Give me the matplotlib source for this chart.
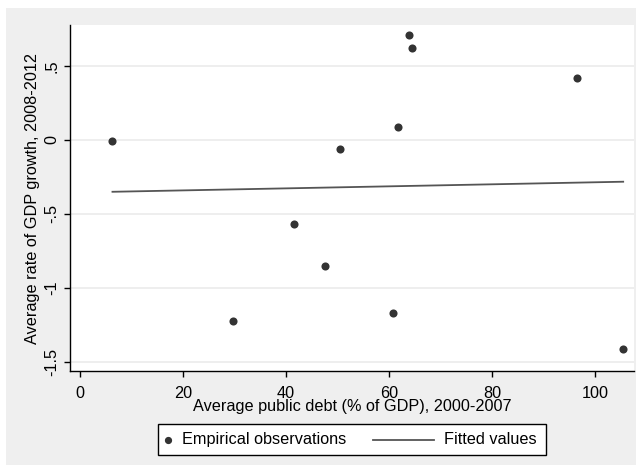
import matplotlib
matplotlib.use("Agg")
import matplotlib.pyplot as plt
from matplotlib.patches import Rectangle
from matplotlib.lines import Line2D

plt.rcParams['font.family'] = ['Liberation Sans', 'DejaVu Sans']

# Average public debt 2000-2007 (% of GDP) and average GDP growth 2008-2012
debt = [6.3, 29.8, 41.6, 47.6, 50.4, 60.8, 61.7, 63.9, 64.4, 96.6, 105.5]
growth = [-0.01, -1.22, -0.57, -0.85, -0.06, -1.17, 0.09, 0.71, 0.62, 0.42, -1.41]

# Fitted values at the ends of the sample
fit_x = [6.3, 105.5]
fit_y = [-0.350, -0.282]

x_ticks = [0, 20, 40, 60, 80, 100]
y_ticks = [-1.5, -1, -0.5, 0, 0.5]
y_labels = ['-1.5', '-1', '-.5', '0', '.5']
legend_labels = ['Empirical observations', 'Fitted values']

W, H = 636, 466
FS = 11.7
DOT = '#333333'
LINE = '#555555'

fig = plt.figure(figsize=(W / 100, H / 100), dpi=100)
fig.patch.set_facecolor('white')


def px(x, y):
    """pixel position (from top-left) -> figure fraction"""
    return x / W, 1 - y / H


# grey graph region behind everything
fig.patches.append(Rectangle((6 / W, 1 / H), 630 / W, 457 / H,
                             transform=fig.transFigure, facecolor='#efefef',
                             edgecolor='none', zorder=-5))

ax = fig.add_axes([70 / W, 1 - 371 / H, (634 - 70) / W, (371 - 25) / H])
ax.set_facecolor('white')

ax.scatter(debt, growth, s=34, color=DOT, zorder=3, linewidths=0)
ax.plot(fit_x, fit_y, color=LINE, lw=1.3, zorder=2)

ax.set_xlim(-1.95, 107.6)
ax.set_ylim(-1.561, 0.777)

ax.set_xticks(x_ticks)
ax.set_xticklabels([str(t) for t in x_ticks])
ax.set_yticks(y_ticks)
ax.set_yticklabels(y_labels, rotation=90, va='center')

for t in y_ticks:
    ax.axhline(t, color='#ebebeb', lw=1.2, zorder=1)

for s in ['top', 'right']:
    ax.spines[s].set_visible(False)
for s in ['left', 'bottom']:
    ax.spines[s].set_color('black')
    ax.spines[s].set_linewidth(1.0)

ax.tick_params(axis='both', direction='out', length=4.3, width=1,
               color='black', labelsize=FS)
ax.tick_params(axis='x', pad=6.5)
ax.tick_params(axis='y', pad=3.5)

ax.set_xlabel('Average public debt (% of GDP), 2000-2007', fontsize=FS, labelpad=-1.5)
ax.set_ylabel('Average rate of GDP growth, 2008-2012', fontsize=FS, labelpad=3)

# legend box below the plot, laid out by hand
x0, y0 = px(157.5, 455)
x1, y1 = px(545.5, 424)
fig.patches.append(Rectangle((x0, y0), x1 - x0, y1 - y0, transform=fig.transFigure,
                             facecolor='white', edgecolor='black', lw=1.0))
ly = px(0, 439.5)[1]
fig.lines.append(Line2D([px(168, 0)[0]], [ly], marker='o', markersize=4.2, ls='none',
                        color=DOT, transform=fig.transFigure))
fig.text(px(182, 0)[0], ly, legend_labels[0], fontsize=FS, va='center', ha='left')
fig.lines.append(Line2D([px(373, 0)[0], px(434, 0)[0]], [ly, ly], color=LINE, lw=1.3,
                        transform=fig.transFigure))
fig.text(px(444, 0)[0], ly, legend_labels[1], fontsize=FS, va='center', ha='left')

fig.savefig('out.png', dpi=100, facecolor='white')
